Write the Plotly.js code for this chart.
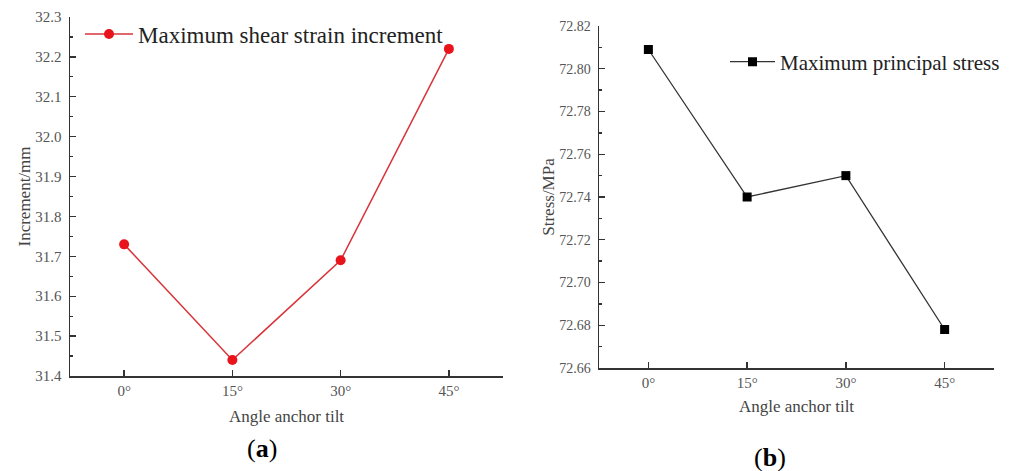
<!DOCTYPE html>
<html>
<head>
<meta charset="utf-8">
<script src="https://cdn.plot.ly/plotly-3.0.1.min.js"></script>
<style>html,body{margin:0;padding:0;background:#fff;}#chart{width:1024px;height:471px;}</style>
</head>
<body>
<div id="chart"></div>
<script>
const angles = ['0°', '15°', '30°', '45°'];
const shearIncrement = [31.73, 31.44, 31.69, 32.22];
const principalStress = [72.809, 72.74, 72.75, 72.678];
const seriesNames = ['Maximum shear strain increment', 'Maximum principal stress'];
const yTitles = ['Increment/mm', 'Stress/MPa'];
const xTitle = 'Angle anchor tilt';
const panelLabels = ['(<b>a</b>)', '(<b>b</b>)'];

const serif = '"Liberation Serif", "Times New Roman", serif';
const tickFont = {family: serif, size: 15, color: '#555'};
const titleFont = {family: serif, size: 17, color: '#444'};

const traces = [
  {x: angles, y: shearIncrement, name: seriesNames[0], type: 'scatter', mode: 'lines+markers',
   xaxis: 'x', yaxis: 'y', legend: 'legend',
   line: {color: '#d9343a', width: 1.5}, marker: {symbol: 'circle', size: 10, color: '#e8131b'}},
  {x: angles, y: principalStress, name: seriesNames[1], type: 'scatter', mode: 'lines+markers',
   xaxis: 'x2', yaxis: 'y2', legend: 'legend2',
   line: {color: '#333', width: 1.3}, marker: {symbol: 'square', size: 9, color: '#000'}}
];

const W = 1024, H = 471;
const px = v => v / W, py = v => 1 - v / H;

function xAxis(domain, anchor, standoff) {
  return {domain: domain, anchor: anchor, type: 'category', range: [-0.5, 3.5],
    showline: true, linecolor: '#333', linewidth: 1.5, ticks: 'inside', ticklen: 6, tickcolor: '#333',
    tickwidth: 1.3, showgrid: false, zeroline: false, tickfont: tickFont,
    title: {text: xTitle, font: titleFont, standoff: standoff}};
}
function yAxis(domain, anchor, range, dtick, fmt, title, fsize) {
  return {domain: domain, anchor: anchor, range: range, dtick: dtick, tick0: range[0], tickformat: fmt,
    showline: true, linecolor: '#333', linewidth: 1.5, ticks: 'inside', ticklen: 6, tickcolor: '#333',
    tickwidth: 1.3, showgrid: false, zeroline: false,
    tickfont: {family: serif, size: fsize, color: '#555'}, ticklabelstandoff: 4,
    minor: {ticks: 'inside', ticklen: 3, dtick: dtick / 2, tickcolor: '#333', showgrid: false},
    title: {text: title, font: titleFont, standoff: 0}};
}

const layout = {
  width: W, height: H, margin: {l: 0, r: 0, t: 0, b: 0},
  paper_bgcolor: '#fff', plot_bgcolor: '#fff',
  showlegend: true,
  xaxis: xAxis([px(70), px(503)], 'y', 12),
  yaxis: yAxis([py(376), py(17)], 'x', [31.4, 32.3], 0.1, '.1f', yTitles[0], 15),
  xaxis2: xAxis([px(599), px(994)], 'y2', 10),
  yaxis2: yAxis([py(368), py(26)], 'x2', [72.66, 72.82], 0.02, '.2f', yTitles[1], 14),
  legend: {x: px(80), y: py(34), yanchor: 'middle', xanchor: 'left', bgcolor: 'rgba(0,0,0,0)',
    font: {family: serif, size: 23, color: '#222'}, itemwidth: 48},
  legend2: {x: px(725), y: py(62), yanchor: 'middle', xanchor: 'left', bgcolor: 'rgba(0,0,0,0)',
    font: {family: serif, size: 21, color: '#222'}, itemwidth: 45},
  annotations: [
    {text: panelLabels[0], x: px(262), y: py(448), xref: 'paper', yref: 'paper', showarrow: false,
     xanchor: 'center', yanchor: 'middle', font: {family: serif, size: 26, color: '#000'}},
    {text: panelLabels[1], x: px(770), y: py(457), xref: 'paper', yref: 'paper', showarrow: false,
     xanchor: 'center', yanchor: 'middle', font: {family: serif, size: 26, color: '#000'}}
  ]
};

Plotly.newPlot('chart', traces, layout, {displayModeBar: false, staticPlot: true});
</script>
</body>
</html>
